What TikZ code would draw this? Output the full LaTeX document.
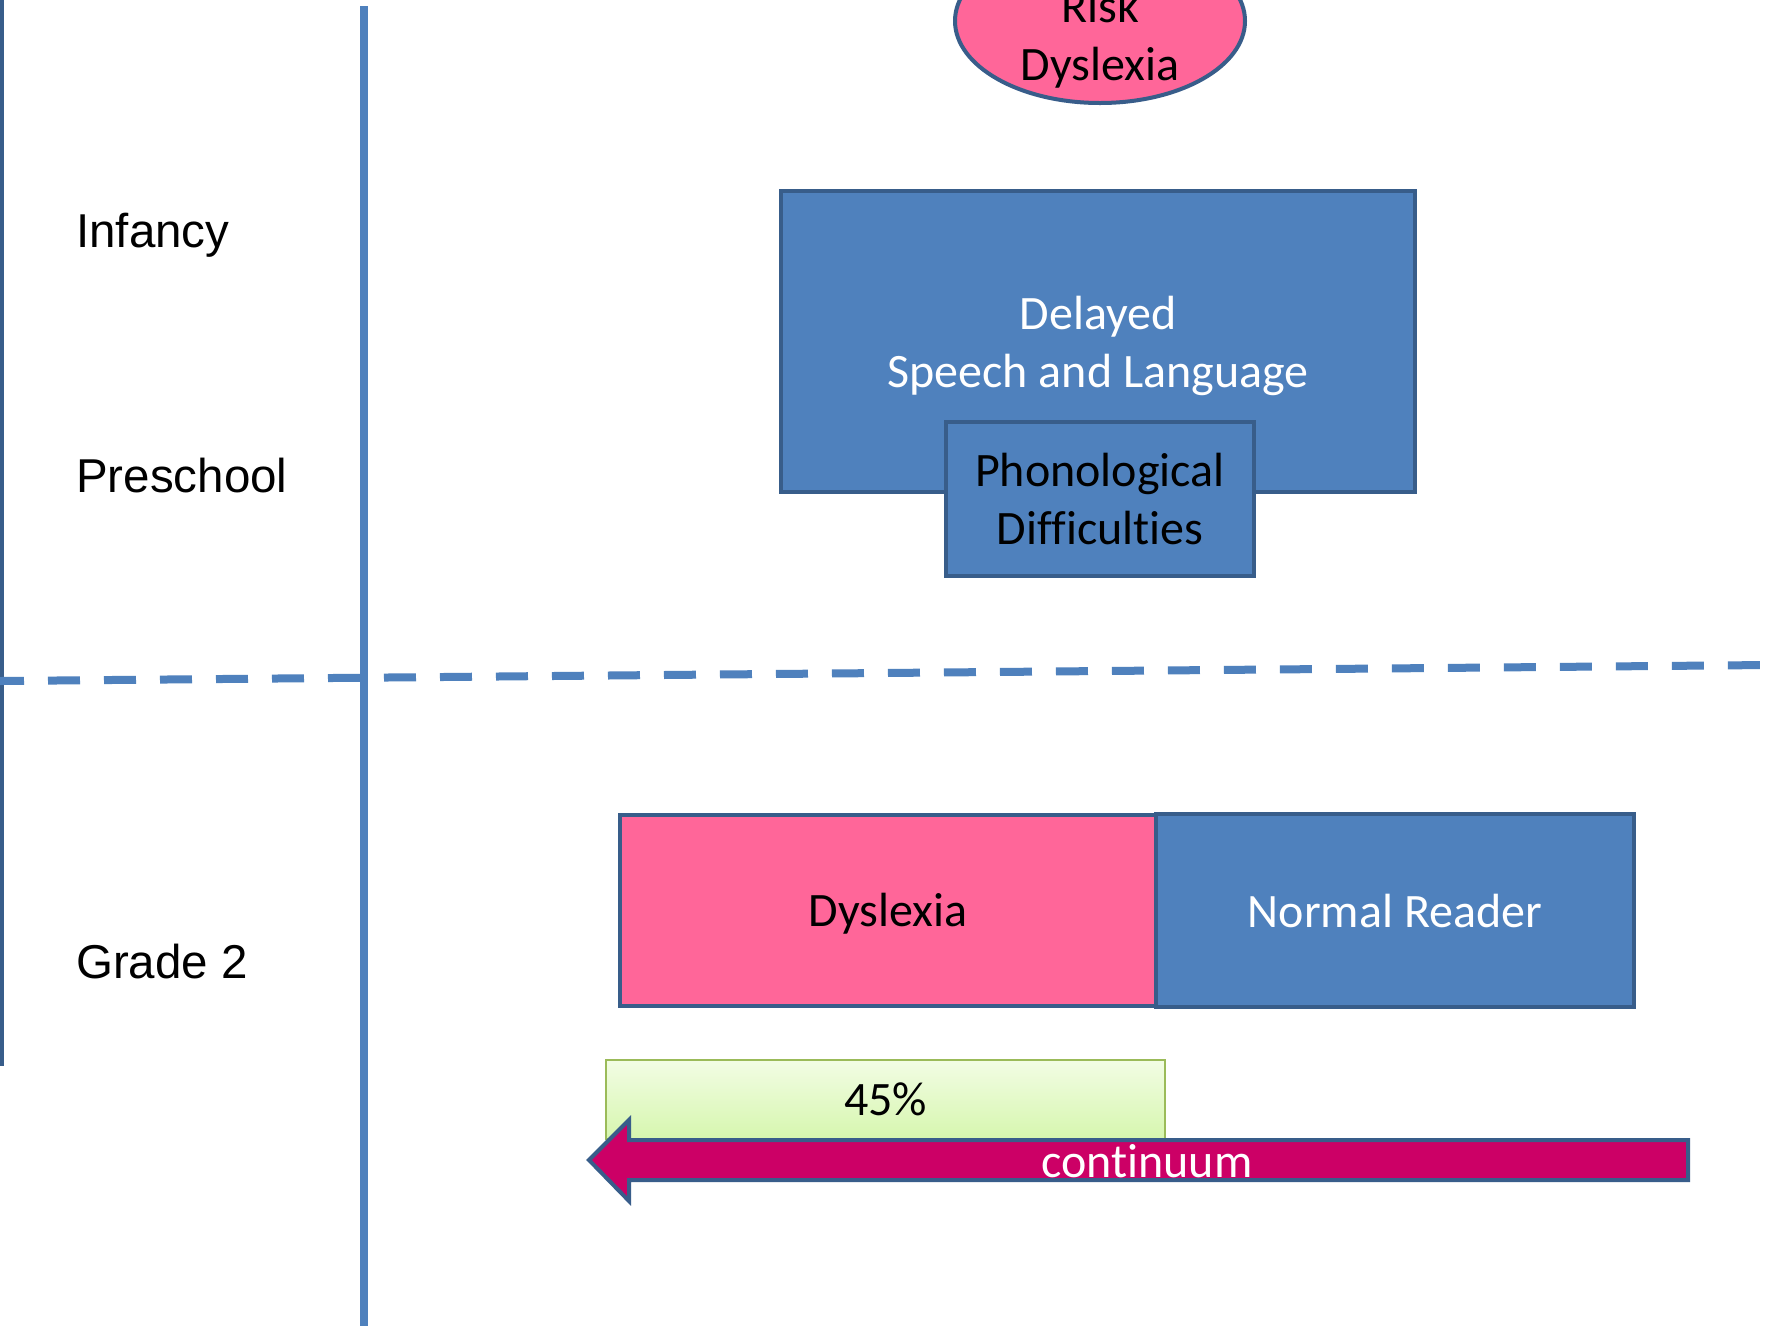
\documentclass[tikz,border=0pt]{standalone}
\usepackage{fontspec}
\setmainfont{Carlito}[Ligatures={NoCommon}]
\newfontfamily\arialf{Liberation Sans}
\usetikzlibrary{shapes.geometric}
\definecolor{boxblue}{HTML}{4F81BD}
\definecolor{edgeblue}{HTML}{385D8A}
\definecolor{pinkfill}{HTML}{FF6699}
\definecolor{arrowmag}{HTML}{CC0066}
\definecolor{greenedge}{HTML}{9BBB59}
\definecolor{greentop}{HTML}{F2FDE4}
\definecolor{greenbot}{HTML}{D6F6AE}
\begin{document}
\begin{tikzpicture}[x=1pt,y=-1pt,
  bodyfont/.style={font=\fontsize{48}{58}\selectfont},
  bluebox/.style={draw=edgeblue, line width=4pt, fill=boxblue, text=white, align=center, bodyfont, inner sep=0pt},
  pinkbox/.style={draw=edgeblue, line width=4pt, fill=pinkfill, text=black, align=center, bodyfont, inner sep=0pt},
  boxtext/.style={align=center, bodyfont, inner sep=0pt},
  greenbox/.style={draw=greenedge, line width=1.5pt, top color=greentop, bottom color=greenbot, align=center, bodyfont, inner sep=0pt},
  stagelabel/.style={anchor=west, inner sep=0pt, font=\arialf\fontsize{47.5}{57}\selectfont},
  timeline/.style={boxblue, line width=8pt},
  phaseline/.style={boxblue, line width=8pt, dash pattern=on 32pt off 24pt, dash phase=8pt}
]
\useasboundingbox (0,0) rectangle (1768,1326);
\fill[white] (0,0) rectangle (1768,1326);

% lines
\coordinate (ltop) at (1,0);
\coordinate (lbot) at (1,1066);
\draw[edgeblue, line width=5pt] (ltop) -- (lbot);
\coordinate (vtop) at (364,6);
\coordinate (vbot) at (364,1326);
\draw[timeline] (vtop) -- (vbot);
\coordinate (dl) at (0,681);
\coordinate (dr) at (1768,665);
\draw[phaseline] (dl) -- (dr);

% stage labels
\node[stagelabel] (infancy) at (76,235.5) {Infancy};
\node[stagelabel] (preschool) at (76,476) {Preschool};
\node[stagelabel] (grade) at (76,962) {Grade 2};

% risk ellipse
\node[ellipse, draw=edgeblue, line width=4pt, fill=pinkfill, minimum width=290pt, minimum height=164pt, inner sep=0pt] (risk) at (1100,21) {};
\node[boxtext] (risktext) at (1100,38.7) {Risk\\Dyslexia};

% preschool boxes
\node[bluebox, minimum width=634pt, minimum height=301pt] (delay) at (1098,341) {};
\node[boxtext, text=white] (delaytext) at ([yshift=-4.5pt]delay.center) {Delayed\\Speech and Language};
\node[bluebox, text=black, minimum width=308pt, minimum height=154pt] (phon) at (1100,499) {Phonological\\Difficulties};

% grade 2 boxes
\node[pinkbox, minimum width=536pt, minimum height=191pt] (dys) at (888,910.5) {};
\node[boxtext] (dystext) at ([yshift=-3.4pt]dys.center) {Dyslexia};
\node[bluebox, minimum width=478pt, minimum height=193pt] (normal) at (1395,910.5) {Normal Reader};

% 45 percent
\node[greenbox, minimum width=559pt, minimum height=79pt] (pct) at (885.5,1099.5) {45\%};

% continuum arrow
\coordinate (tip) at (589,1160);
\coordinate (ht) at (629,1120);
\coordinate (st) at (629,1140);
\coordinate (rt) at (1688,1140);
\coordinate (rb) at (1688,1180);
\coordinate (sb) at (629,1180);
\coordinate (hb) at (629,1201);
\draw[edgeblue, line width=4pt, fill=arrowmag, line join=miter] (tip) -- (ht) -- (st) -- (rt) -- (rb) -- (sb) -- (hb) -- cycle;
\node[bodyfont, text=white, inner sep=0pt] (cont) at (1147,1161) {continuum};
\end{tikzpicture}
\end{document}
